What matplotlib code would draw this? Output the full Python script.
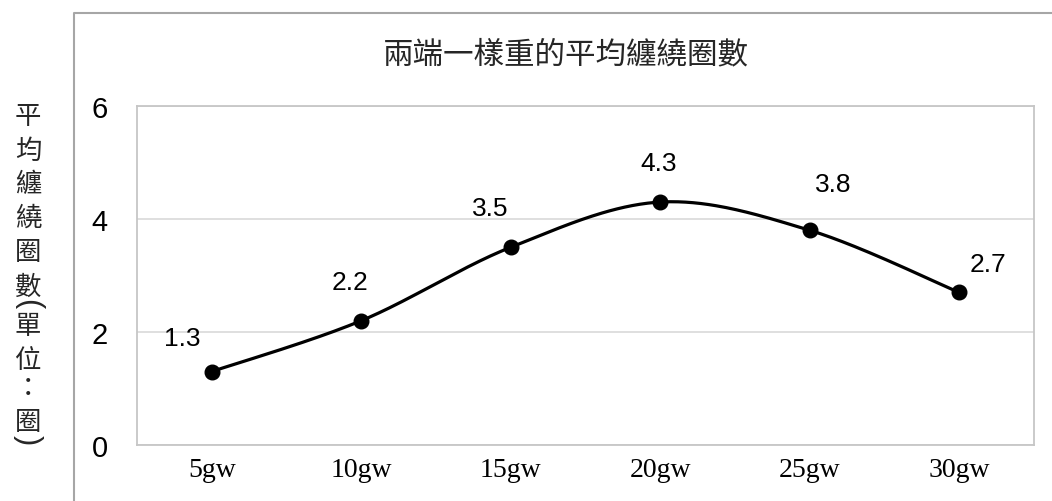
import numpy as np
import matplotlib
matplotlib.use("Agg")
import matplotlib.pyplot as plt
from matplotlib.lines import Line2D

# Data
categories = ["5gw", "10gw", "15gw", "20gw", "25gw", "30gw"]
values = [1.3, 2.2, 3.5, 4.3, 3.8, 2.7]
y_ticks = [0, 2, 4, 6]
title = "兩端一樣重的平均纏繞圈數"
ylabel_chars = ["平", "均", "纏", "繞", "圈", "數", "(", "單", "位", "：", "圈", ")"]

W, H = 1052, 502
fig = plt.figure(figsize=(W / 100, H / 100), dpi=100)
fig.patch.set_facecolor("white")


def px(x, y):
    return x / W, 1 - y / H


# plot area
left, top = px(137, 107)
right, bottom = px(1034, 446)
ax = fig.add_axes([left, bottom, right - left, top - bottom])

x = np.arange(len(values))
y = np.array(values, dtype=float)


# smoothed line (Catmull-Rom as cubic Bezier segments)
def smooth(xs, ys, n=60):
    pts = np.column_stack([xs, ys])
    out = []
    for i in range(len(pts) - 1):
        p0 = pts[max(i - 1, 0)]
        p1 = pts[i]
        p2 = pts[i + 1]
        p3 = pts[min(i + 2, len(pts) - 1)]
        c1 = p1 + (p2 - p0) / 6.0
        c2 = p2 - (p3 - p1) / 6.0
        t = np.linspace(0, 1, n)[:, None]
        seg = ((1 - t) ** 3) * p1 + 3 * ((1 - t) ** 2) * t * c1 + 3 * (1 - t) * t ** 2 * c2 + t ** 3 * p2
        out.append(seg if i == 0 else seg[1:])
    return np.vstack(out)


curve = smooth(x, y)
ax.plot(curve[:, 0], curve[:, 1], color="black", lw=2.3, solid_capstyle="round", zorder=3)
ax.plot(x, y, "o", color="black", ms=10.5, zorder=4)

# data labels (pixel offsets from each point)
label_offsets = [(-29, 34), (-11, 39), (-21, 39), (-2, 39), (23, 46), (29, 28)]
for xi, yi, (dx, dy) in zip(x, y, label_offsets):
    ax.annotate(f"{yi:.1f}", (xi, yi), xytext=(dx * 0.72, dy * 0.72), textcoords="offset points",
                ha="center", va="center", fontsize=19, family="Liberation Sans", color="black")

ax.set_xlim(-0.5, len(values) - 0.5)
ax.set_ylim(0, 6)
ax.set_yticks(y_ticks)
ax.set_yticklabels([str(t) for t in y_ticks], family="Liberation Sans", fontsize=21)
ax.set_xticks(x)
ax.set_xticklabels(categories, family="Liberation Serif", fontsize=20)
ax.tick_params(axis="both", length=0, colors="black")
ax.tick_params(axis="y", pad=21)
ax.tick_params(axis="x", pad=9)
ax.grid(axis="y", color="#d9d9d9", lw=1.2)
ax.set_axisbelow(True)
for s in ax.spines.values():
    s.set_color("#c6c6c6")
    s.set_linewidth(1.3)

# chart area border (left and top edges)
bx, by = px(74, 14)
fig.add_artist(Line2D([bx, bx, 1.0], [0.0, by, by], transform=fig.transFigure,
                      color="#a6a6a6", lw=1.5))

# title
tx, ty = px(566, 55)
fig.text(tx, ty, title, ha="center", va="center", fontsize=22, weight="light",
         family=["Noto Sans CJK TC", "DejaVu Sans"], color="#262626")

# vertical axis title, one character per row; brackets turned sideways
ylabel_pos = [117, 151, 185, 218, 252, 287, 304, 327, 360, 388, 423, 440]
for ch, yy in zip(ylabel_chars, ylabel_pos):
    if ch in "()":
        # rotate about the baseline point; shift so the arc sits on the column centre
        cx, cy = px(20, yy)
        fig.text(cx, cy, ch, ha="center", va="baseline", fontsize=22, rotation=-90,
                 rotation_mode="anchor", family="Liberation Sans", color="#262626")
    else:
        cx, cy = px(28, yy)
        fig.text(cx, cy, ch, ha="center", va="center", fontsize=19,
                 family=["Noto Sans CJK TC", "DejaVu Sans"], color="#262626")

fig.savefig("out.png", dpi=100, facecolor="white")
